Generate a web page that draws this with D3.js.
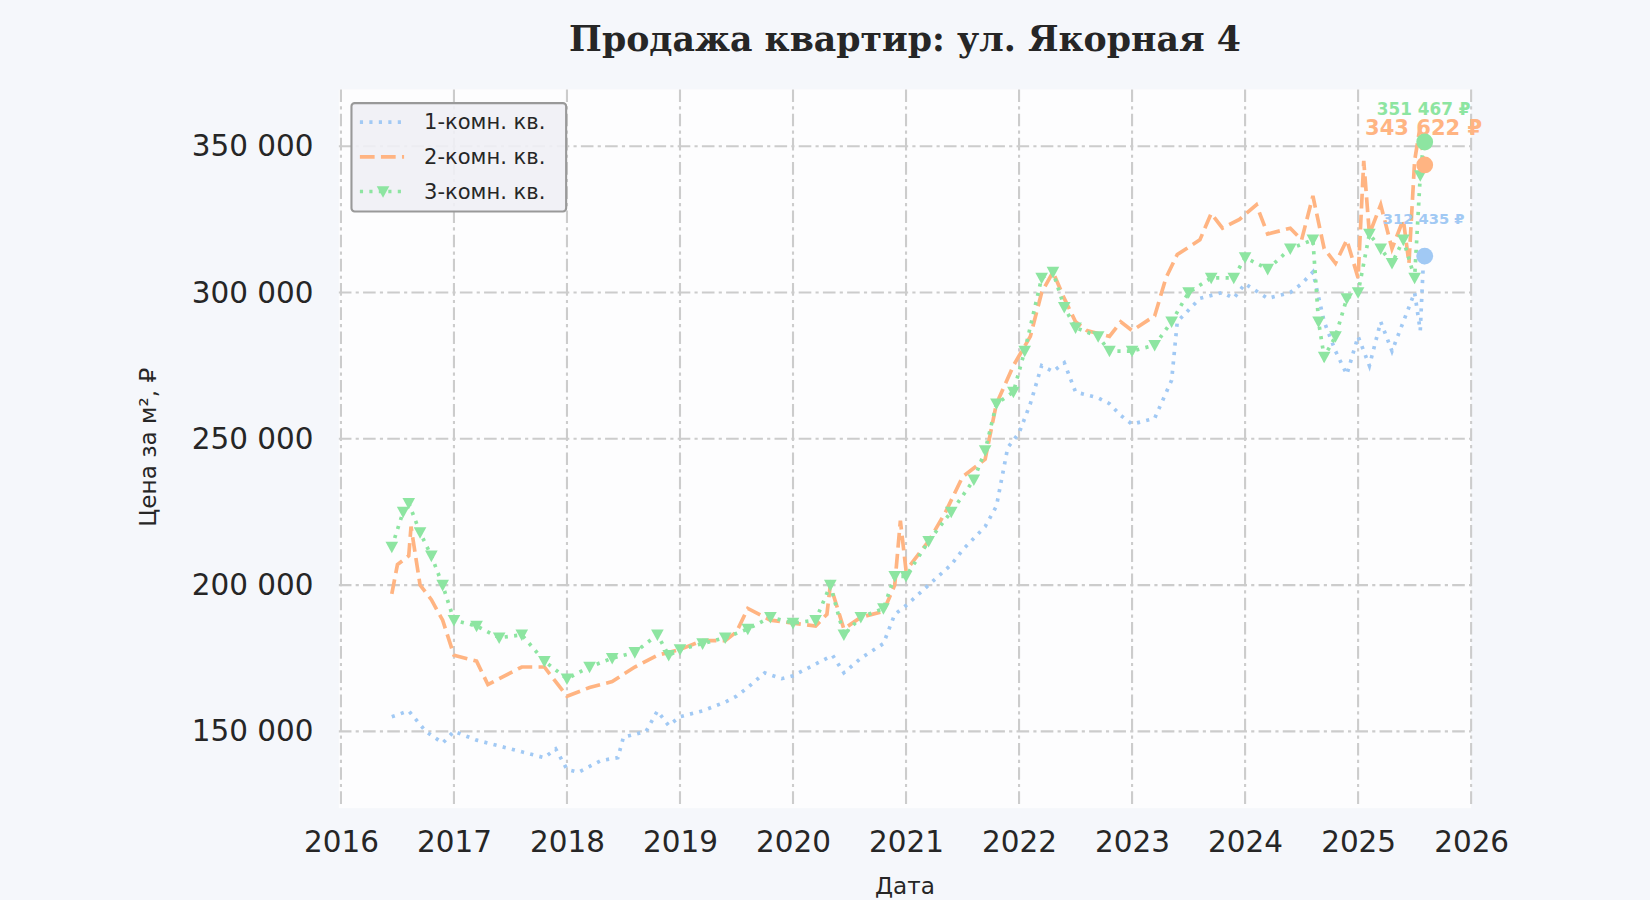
<!DOCTYPE html><html><head><meta charset="utf-8">
<script src="https://cdn.jsdelivr.net/npm/d3@7"></script>
<style>body{margin:0;background:#f5f7fb;font-family:"DejaVu Sans",sans-serif}</style></head><body><svg id="c" width="1650" height="900"></svg>
<script>
const blueT=[2016.45,2016.6,2016.75,2016.9,2017.0,2017.2,2017.4,2017.6,2017.8,2017.9,2018.0,2018.1,2018.3,2018.45,2018.5,2018.7,2018.8,2018.9,2019.0,2019.2,2019.4,2019.5,2019.6,2019.75,2019.9,2020.0,2020.2,2020.35,2020.45,2020.6,2020.8,2020.9,2021.0,2021.2,2021.4,2021.5,2021.7,2021.8,2021.9,2022.0,2022.1,2022.2,2022.3,2022.4,2022.5,2022.7,2022.8,2022.9,2023.0,2023.2,2023.35,2023.4,2023.6,2023.8,2023.9,2024.0,2024.2,2024.4,2024.5,2024.6,2024.7,2024.8,2024.9,2025.0,2025.1,2025.2,2025.3,2025.4,2025.5,2025.55,2025.58];
const blueV=[155000,157000,150000,146000,150000,147000,145000,143000,141000,144000,137000,136000,140000,141000,148000,150000,157000,152000,155000,157000,160000,162000,165000,170000,168000,169000,173000,176000,170000,175000,180000,190000,193000,200000,207000,212000,220000,227000,247000,252000,262000,275000,273000,276000,266000,264000,262000,258000,255000,257000,270000,290000,298000,300000,298000,303000,298000,300000,303000,307000,290000,280000,272000,285000,275000,290000,280000,290000,300000,287000,312435];
const orangeT=[2016.45,2016.5,2016.6,2016.62,2016.7,2016.8,2016.9,2017.0,2017.2,2017.3,2017.4,2017.6,2017.8,2017.9,2018.0,2018.2,2018.4,2018.6,2018.8,2019.0,2019.2,2019.4,2019.5,2019.6,2019.8,2020.0,2020.2,2020.3,2020.33,2020.45,2020.6,2020.8,2020.9,2020.95,2021.0,2021.2,2021.35,2021.5,2021.7,2021.8,2021.95,2022.1,2022.2,2022.3,2022.4,2022.5,2022.6,2022.8,2022.9,2023.0,2023.2,2023.3,2023.4,2023.6,2023.7,2023.8,2023.95,2024.1,2024.2,2024.4,2024.5,2024.6,2024.7,2024.8,2024.9,2025.0,2025.05,2025.1,2025.2,2025.3,2025.4,2025.45,2025.5,2025.55,2025.58];
const orangeV=[197000,207000,210000,220000,200000,195000,188000,176000,174000,166000,168000,172000,172000,167000,162000,165000,167000,172000,176000,178000,181000,181000,184000,192000,188000,187000,186000,190000,200000,185000,189000,191000,200000,222000,205000,215000,225000,237000,243000,262000,275000,285000,300000,307000,298000,290000,287000,285000,290000,287000,292000,305000,313000,318000,327000,322000,325000,330000,320000,322000,318000,333000,315000,310000,318000,305000,345000,320000,330000,315000,325000,310000,345000,357000,343622];
const greenT=[2016.45,2016.55,2016.6,2016.7,2016.8,2016.9,2017.0,2017.2,2017.4,2017.6,2017.8,2018.0,2018.2,2018.4,2018.6,2018.8,2018.9,2019.0,2019.2,2019.4,2019.6,2019.8,2020.0,2020.2,2020.33,2020.45,2020.6,2020.8,2020.9,2021.0,2021.2,2021.4,2021.6,2021.7,2021.8,2021.95,2022.05,2022.2,2022.3,2022.4,2022.5,2022.7,2022.8,2023.0,2023.2,2023.35,2023.5,2023.7,2023.9,2024.0,2024.2,2024.4,2024.6,2024.65,2024.7,2024.8,2024.9,2025.0,2025.1,2025.2,2025.3,2025.4,2025.5,2025.55,2025.58];
const greenV=[213000,225000,228000,218000,210000,200000,188000,186000,182000,183000,174000,168000,172000,175000,177000,183000,176000,178000,180000,182000,185000,189000,187000,188000,200000,183000,189000,192000,203000,203000,215000,225000,236000,246000,262000,266000,280000,305000,307000,295000,288000,285000,280000,280000,282000,290000,300000,305000,305000,312000,308000,315000,318000,290000,278000,285000,298000,300000,320000,315000,310000,318000,305000,340000,351467];
const yTicks=[150000,200000,250000,300000,350000];
const xTicks=[2016,2017,2018,2019,2020,2021,2022,2023,2024,2025,2026];
const names=["1-комн. кв.","2-комн. кв.","3-комн. кв."];
const colors=["#a1c9f4","#ffb482","#8de5a1"];

const svg0=d3.select("#c");
const svg=svg0.append("g").attr("transform","scale(1.0523)");
const L=322,R=1398,T=85,B=768;
const x=d3.scaleLinear().domain([2016,2026]).range([324,1398]);
const y=d3.scaleLinear().domain([150000,350000]).range([695,139]);
svg.append("rect").attr("x",L).attr("y",T).attr("width",R-L).attr("height",B-T).attr("fill","#fdfdfe");
const fmt=v=>d3.format(",")(v).replace(/,/g," ");
xTicks.forEach(t=>svg.append("line").attr("x1",x(t)).attr("x2",x(t)).attr("y1",T).attr("y2",B).attr("stroke","#cccccc").attr("stroke-width",2).attr("stroke-dasharray","12,4,3,4"));
yTicks.forEach(t=>svg.append("line").attr("x1",L).attr("x2",R).attr("y1",y(t)).attr("y2",y(t)).attr("stroke","#cccccc").attr("stroke-width",2).attr("stroke-dasharray","12,4,3,4"));
const ax=svg.append("g").attr("transform",`translate(0,${B})`).call(d3.axisBottom(x).tickValues(xTicks).tickFormat(d3.format("d")).tickSize(0).tickPadding(22));
const ay=svg.append("g").attr("transform",`translate(${L},0)`).call(d3.axisLeft(y).tickValues(yTicks).tickFormat(fmt).tickSize(0).tickPadding(24));
[ax,ay].forEach(a=>{a.select(".domain").remove();a.selectAll("text").attr("font-size",28).attr("fill","#262626").attr("font-family","DejaVu Sans");});
svg.append("text").attr("x",860).attr("y",850).attr("text-anchor","middle").attr("font-size",22).attr("fill","#262626").text("Дата");
svg.append("text").attr("transform","translate(148,425) rotate(-90)").attr("text-anchor","middle").attr("font-size",22).attr("fill","#262626").text("Цена за м², ₽");
svg.append("text").attr("x",860).attr("y",48).attr("text-anchor","middle").attr("font-size",33).attr("font-weight","bold").attr("font-family","DejaVu Serif").attr("fill","#262626").text("Продажа квартир: ул. Якорная 4");

const series=[[blueT,blueV],[orangeT,orangeV],[greenT,greenV]];
const dashes=["3,6","14,6","3,6"];
const line=d3.line().x(d=>x(d[0])).y(d=>y(d[1]));
series.forEach((s,i)=>{
  const pts=s[0].map((t,j)=>[t,s[1][j]]);
  svg.append("path").datum(pts).attr("d",line).attr("fill","none").attr("stroke",colors[i]).attr("stroke-width",3.5).attr("stroke-dasharray",dashes[i]);
  if(i==2){svg.append("g").selectAll("path").data(pts).join("path").attr("transform",d=>`translate(${x(d[0])},${y(d[1])})`).attr("d","M-6,-5L6,-5L0,6Z").attr("fill",colors[2]);}
});
const ends=[[blueT,blueV,14,-31],[orangeT,orangeV,20,-28],[greenT,greenV,16,-26]];
ends.forEach((e,i)=>{
  const t=e[0][e[0].length-1],v=e[1][e[1].length-1];
  svg.append("circle").attr("cx",x(t)+1).attr("cy",y(v)).attr("r",8).attr("fill",colors[i]);
  svg.append("text").attr("x",x(t)).attr("y",y(v)+e[3]).attr("text-anchor","middle").attr("font-size",e[2]).attr("font-weight","bold").attr("fill",colors[i]).text(fmt(v)+" ₽");
});
const lg=svg.append("g").attr("transform","translate(334,98)");
lg.append("rect").attr("width",204).attr("height",103).attr("rx",3).attr("fill","#f0f0f5").attr("fill-opacity",0.9).attr("stroke","#999").attr("stroke-width",2);
names.forEach((n,i)=>{
  const yy=18+i*33;
  lg.append("line").attr("x1",8).attr("x2",50).attr("y1",yy).attr("y2",yy).attr("stroke",colors[i]).attr("stroke-width",3.5).attr("stroke-dasharray",i==1?"14,6":"3,6");
  if(i==2)lg.append("path").attr("transform",`translate(30,${yy})`).attr("d","M-6,-5L6,-5L0,6Z").attr("fill",colors[2]);
  lg.append("text").attr("x",69).attr("y",yy+7).attr("font-size",20).attr("fill","#262626").text(n);
});
</script></body></html>
